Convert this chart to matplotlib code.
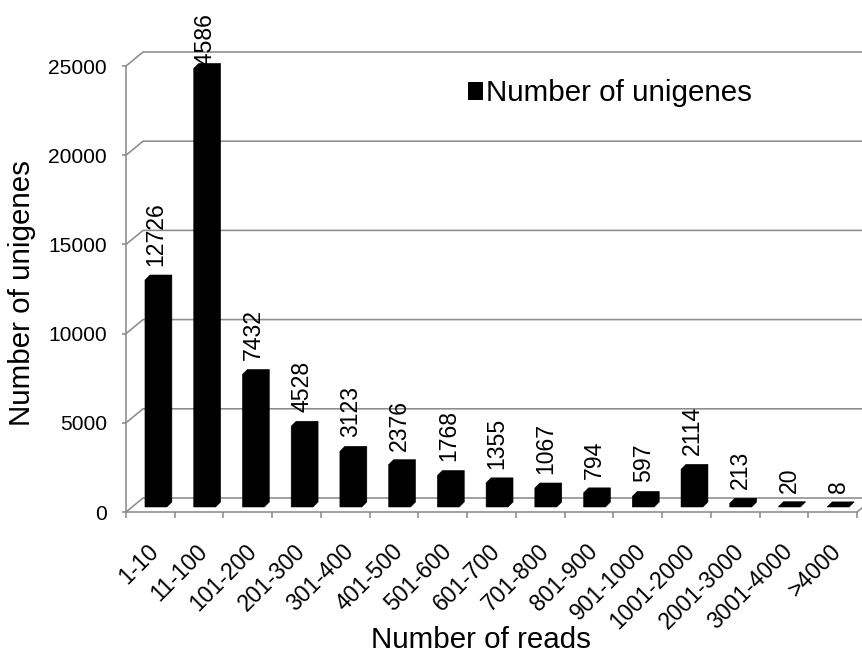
import matplotlib.pyplot as plt
import matplotlib.transforms as mtransforms
from matplotlib.patches import Polygon, Patch
import numpy as np

plt.rcParams['font.family'] = ['Liberation Sans', 'DejaVu Sans']

read_bins = ['1-10', '11-100', '101-200', '201-300', '301-400', '401-500',
             '501-600', '601-700', '701-800', '801-900', '901-1000',
             '1001-2000', '2001-3000', '3001-4000', '>4000']
unigene_counts = [12726, 24586, 7432, 4528, 3123, 2376, 1768, 1355, 1067,
                  794, 597, 2114, 213, 20, 8]
y_ticks = [0, 5000, 10000, 15000, 20000, 25000]

DPI = 72
W, H = 862, 655
fig = plt.figure(figsize=(W / DPI, H / DPI), dpi=DPI)
fig.patch.set_facecolor('white')
ax = fig.add_axes([126 / W, 143 / H, 731 / W, 446 / H])
n = len(read_bins)
ax.set_xlim(-0.5, n - 0.5)
ax.set_ylim(0, 25000)

grid_c = '#8c8c8c'
lw = 1.6
# depth of the fake 3d box (back wall offset), data units
wall_dx, wall_dy = 0.35, 785

# gridlines: slanted on the left wall, then flat along the back wall
for v in y_ticks:
    ax.plot([-0.5, -0.5 + wall_dx, n - 0.5 + wall_dx],
            [v, v + wall_dy, v + wall_dy],
            color=grid_c, lw=lw, clip_on=False, zorder=1)
ax.plot([n - 0.5, n - 0.5 + wall_dx], [0, wall_dy], color=grid_c, lw=lw,
        clip_on=False, zorder=1)

for side in ['top', 'right']:
    ax.spines[side].set_visible(False)
for side in ['left', 'bottom']:
    ax.spines[side].set_color(grid_c)
    ax.spines[side].set_linewidth(lw)

ax.set_yticks(y_ticks)
ax.tick_params(axis='y', direction='out', length=4, width=lw, color=grid_c,
               pad=15, labelsize=21)
ax.set_xticks(np.arange(n + 1) - 0.5)
ax.tick_params(axis='x', direction='out', length=6, width=lw, color=grid_c,
               labelbottom=False)

# bars: front face plus a thin depth slab, all solid black
face_off, face_w = -0.111, 0.45
bar_dx, bar_dy = 0.103, 280
base = 280
for i, v in enumerate(unigene_counts):
    xl = i + face_off
    xr = xl + face_w
    y0, y1 = base, base + v
    pts = [(xl, y0), (xr, y0), (xr + bar_dx, y0 + bar_dy),
           (xr + bar_dx, y1 + bar_dy), (xl + bar_dx, y1 + bar_dy), (xl, y1)]
    ax.add_patch(Polygon(pts, closed=True, fc='black', ec='black', lw=0.5,
                         clip_on=False, zorder=3))

# value labels above each bar
lift = mtransforms.ScaledTranslation(0, 9 / DPI, fig.dpi_scale_trans)
value_texts = []
for i, v in enumerate(unigene_counts):
    t = ax.text(i + face_off + face_w / 2, base + v + bar_dy, str(v),
                rotation=90, ha='center', va='bottom', fontsize=23,
                transform=ax.transData + lift, zorder=2, clip_on=False)
    value_texts.append(t)

# category labels, slanted
lbl_off = mtransforms.ScaledTranslation(-3 / DPI, -28 / DPI, fig.dpi_scale_trans)
for i, lab in enumerate(read_bins):
    ax.text(i, 0, lab, rotation=45, rotation_mode='anchor', ha='right',
            va='top', fontsize=23, transform=ax.transData + lbl_off,
            clip_on=False)

fig.text(22 / W, 1 - 293 / H, 'Number of unigenes', rotation=90,
         ha='center', va='center', fontsize=29.5)
fig.text(481 / W, 7 / H, 'Number of reads', ha='center', va='baseline',
         fontsize=29.5)

fig.legend(handles=[Patch(fc='black', ec='black')],
           labels=['Number of unigenes'], loc='center left',
           bbox_to_anchor=(468 / W, 1 - 93 / H), frameon=False,
           fontsize=29.5, handlelength=0.47, handleheight=0.47,
           handletextpad=0.15, borderpad=0, borderaxespad=0)

# keep value labels inside the chart area: push down any that run off the top
fig.canvas.draw()
renderer = fig.canvas.get_renderer()
top_limit = H - 12
for t in value_texts:
    bb = t.get_window_extent(renderer)
    if bb.y1 > top_limit:
        shift = mtransforms.Affine2D().translate(0, top_limit - bb.y1)
        t.set_transform(t.get_transform() + shift)

fig.savefig('out.png', dpi=DPI, facecolor='white')
